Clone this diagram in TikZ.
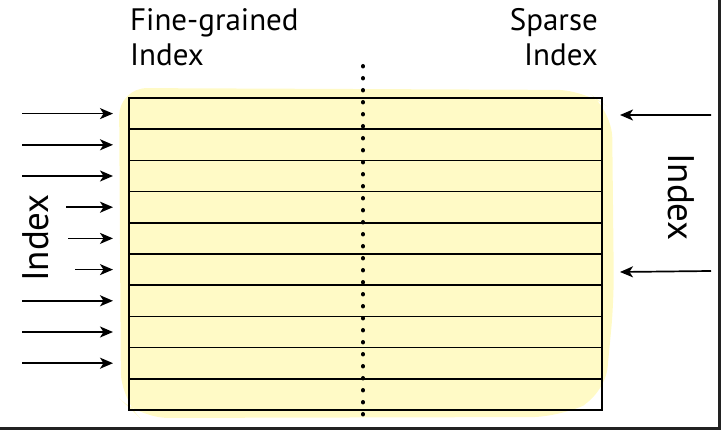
\documentclass[tikz,border=0pt]{standalone}
\usepackage{fontspec}
\setmainfont{PT Sans}
\usetikzlibrary{arrows.meta}
\definecolor{pad}{RGB}{255,250,198}
\definecolor{frame}{RGB}{34,34,34}
\tikzset{
  rowbox/.style={draw=black, line width=1.7pt, minimum width=473pt, minimum height=31.2pt, inner sep=0pt, outer sep=0pt},
  arr/.style={draw=black, line width=1.7pt, -{Stealth[length=13pt,width=11pt,inset=3.5pt]}},
  lbl/.style={font=\fontsize{31}{35}\selectfont, inner sep=0pt},
  sidelbl/.style={font=\fontsize{37}{40}\selectfont, inner sep=0pt},
  dots/.style={draw=black, line width=4pt, line cap=round, dash pattern=on 0.5pt off 11.5pt}
}
\begin{document}
\begin{tikzpicture}[x=1pt,y=-1pt]
\useasboundingbox (0,0) rectangle (721,430);
% yellow background blob
\fill[pad, rounded corners=28pt] (119,88) -- (585,90) -- (612,110) -- (614,300) -- (605,395) -- (560,417) -- (140,418) -- (121,400) -- cycle;
% rows
\foreach \i in {1,...,10} {
  \node[rowbox] (r\i) at (365.5, {98+31.2*(\i-0.5)}) {};
}
% dotted divider
\coordinate (dtop) at (363,66);
\coordinate (dbot) at (363,422);
\draw[dots] (dtop) -- (dbot);
% titles
\node[lbl, align=left, anchor=north west] (fg) at (130,8) {Fine-grained\\Index};
\node[lbl, align=right, anchor=north east] (sp) at (598,8) {Sparse\\Index};
% left label
\node[sidelbl, rotate=90] (li) at (36,238) {Index};
% right label
\node[sidelbl, rotate=-90] (ri) at (681,197) {Index};
% left arrows
\foreach \i/\s in {1/22,2/22,3/22,4/66,5/68,6/75,7/22,8/22,9/22} {
  \coordinate (la\i) at (\s, {98+31.2*(\i-0.5)});
  \draw[arr] (la\i) -- ([xshift=-16pt]r\i.west);
}
% right arrows
\coordinate (ra1) at (711,115);
\coordinate (ra6) at (711,271);
\draw[arr] (ra1) -- ([xshift=18pt,yshift=-1.4pt]r1.east);
\draw[arr] (ra6) -- ([xshift=18pt,yshift=-2.4pt]r6.east);
% frame edges
\draw[frame, line width=3pt] (0,428.5) -- (719.5,428.5) -- (719.5,0);
\end{tikzpicture}
\end{document}
